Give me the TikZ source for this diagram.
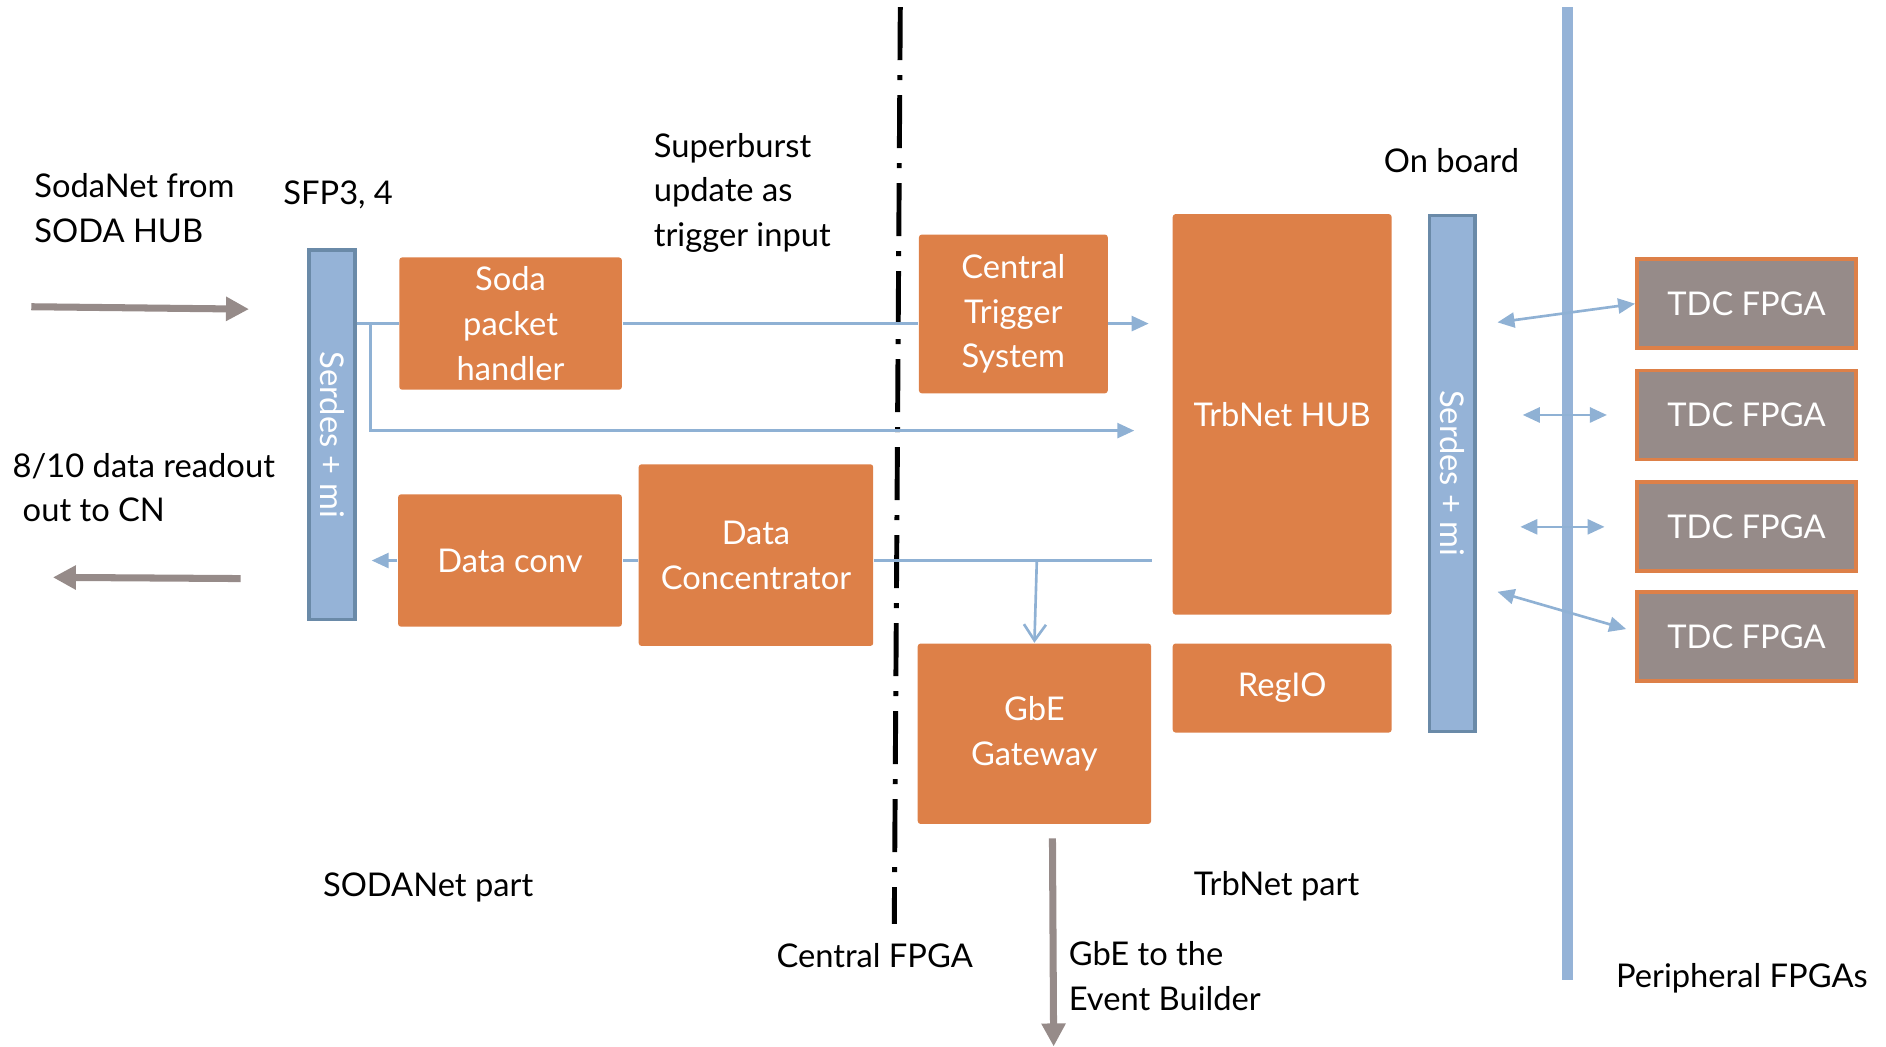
\documentclass[tikz,border=0pt]{standalone}
\usepackage{fontspec}
\setmainfont{Lato}
\usetikzlibrary{arrows.meta, calc}
\definecolor{sodaorange}{RGB}{221,128,72}
\definecolor{serdesblue}{RGB}{149,179,215}
\definecolor{serdesedge}{RGB}{106,138,168}
\definecolor{linkblue}{RGB}{143,177,212}
\definecolor{fpgagrey}{RGB}{150,139,137}
\newcommand{\px}{0.12028mm}
\tikzset{
  every node/.style={font=\fontsize{9.3pt}{12.7pt}\selectfont},
  block/.style={
    rectangle,
    rounded corners=0.8pt,
    fill=sodaorange,
    text=white,
    align=center,
    inner sep=0pt
  },
  serdes/.style={
    rectangle,
    fill=serdesblue,
    draw=serdesedge,
    line width=1pt,
    inner sep=0pt,
    minimum width=38*\px
  },
  tdc/.style={
    rectangle,
    fill=fpgagrey,
    draw=sodaorange,
    line width=1.1pt,
    text=white,
    inner sep=0pt,
    minimum width=182*\px,
    minimum height=74*\px
  },
  caption/.style={inner sep=0pt, align=left, anchor=north west},
  link/.style={draw=linkblue, line width=0.75pt},
  linkarrow/.style={link, -{Triangle[length=1.7mm,width=1.5mm]}},
  duplex/.style={link, {Triangle[length=1.7mm,width=1.5mm]}-{Triangle[length=1.7mm,width=1.5mm]}},
  bigarrow/.style={draw=fpgagrey, line width=2pt, -{Triangle[length=2.3mm,width=2.3mm]}}
}
\begin{document}
\begin{tikzpicture}[x=\px, y=-\px]
  \useasboundingbox (0,0) rectangle (1568,870);

  % board backbone and FPGA border
  \draw[serdesblue, line width=1.08mm] (1303.5,6) -- (1303.5,815);
  \draw[line width=1.4pt, dash pattern=on 5.3mm off 1.5mm on 0.5mm off 1.5mm] (748.5,6) -- (743.5,768);

  \node[serdes, minimum height=307*\px] (serdesL) at (276,361.5) {};
  \node[rotate=-90, text=white] at (serdesL.center) {Serdes + mi};
  \node[block, minimum width=185*\px, minimum height=110*\px] (soda) at (424.5,269) {Soda\\packet\\handler};
  \node[block, minimum width=186*\px, minimum height=110*\px] (dconv) at (424,466) {Data conv};
  \node[block, minimum width=195*\px, minimum height=151*\px] (dconc) at (628.5,461.5) {Data\\Concentrator};
  \node[block, minimum width=157*\px, minimum height=132*\px] (cts) at (842.5,261) {Central\\Trigger\\System};
  \node[block, minimum width=182*\px, minimum height=333*\px] (hub) at (1066,344.5) {TrbNet HUB};
  \node[block, minimum width=182*\px, minimum height=74*\px] (regio) at (1066,572) {RegIO};
  \node[block, minimum width=194*\px, minimum height=150*\px] (gbe) at (860,610) {GbE\\Gateway};
  \node[serdes, minimum height=429*\px] (serdesR) at (1207.5,393.5) {};
  \node[rotate=-90, text=white] at (serdesR.center) {Serdes + mi};
  \foreach \i/\y in {1/252.5, 2/345, 3/438, 4/529}
    \node[tdc] (tdc\i) at (1452,\y) {TDC FPGA};

  \coordinate (tap) at (308,269);
  \coordinate (ctsout) at (955,269);
  \coordinate (hubin) at (943,358);
  \coordinate (dconvout) at (309,466);
  \coordinate (hubout) at (958,466);
  \coordinate (gbetap) at (862,466);
  \coordinate (sodain) at (26,255);
  \coordinate (sodaend) at (207,257);
  \coordinate (cnstart) at (200,481);
  \coordinate (cnend) at (44,480);
  \coordinate (ebstart) at (875,697);
  \coordinate (ebend) at (876,870);

  \draw[link] (serdesL.east |- soda.west) -- (soda.west);
  \draw[link] (soda.east) -- (cts.west |- soda.east);
  \draw[linkarrow] (cts.east |- soda.east) -- (ctsout);
  \draw[linkarrow] (tap) |- (hubin);
  \draw[link] (dconc.west |- dconv.east) -- (dconv.east);
  \draw[linkarrow] (dconv.west) -- (dconvout);
  \draw[link] (dconc.east |- dconv.east) -- (hubout);
  \draw[link, -{Straight Barb[length=1.6mm,width=2.2mm]}] (gbetap) -- (gbe.north);

  \draw[duplex] (1245,268) -- (tdc1.west);
  \draw[duplex] (1266,345) -- (1336,345);
  \draw[duplex] (1264,438) -- (1334,438);
  \draw[duplex] (1245,492) -- (1352,523);

  \draw[bigarrow] (sodain) -- (sodaend);
  \draw[bigarrow] (cnstart) -- (cnend);
  \draw[bigarrow] (ebstart) -- (ebend);

  \node[caption] (sodanet) at (28,144) {SodaNet from\\SODA HUB};
  \node[caption] (sfp) at (235,150) {SFP3, 4};
  \node[caption] (burst) at (543,110) {Superburst\\update as\\trigger input};
  \node[caption] (onboard) at (1150,123) {On board};
  \node[caption] (readout) at (10,376) {8/10 data readout\\\hspace{1mm}out to CN};
  \node[caption] (sodapart) at (268,725) {SODANet part};
  \node[caption] (central) at (645,784) {Central FPGA};
  \node[caption] (evb) at (888,782) {GbE to the\\Event Builder};
  \node[caption] (trbpart) at (992,724) {TrbNet part};
  \node[caption] (periph) at (1343,800) {Peripheral FPGAs};
\end{tikzpicture}
\end{document}
